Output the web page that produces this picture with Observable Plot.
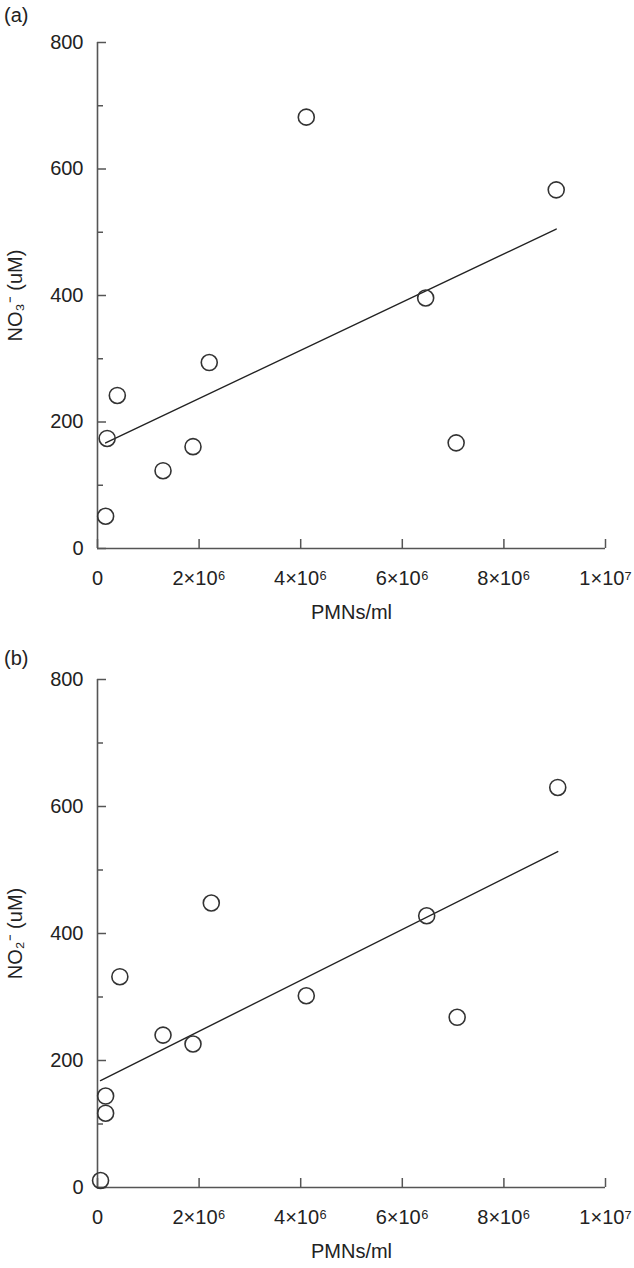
<!DOCTYPE html>
<html>
<head>
<meta charset="utf-8">
<script src="https://cdn.jsdelivr.net/npm/d3@7"></script>
<script src="https://cdn.jsdelivr.net/npm/@observablehq/plot@0.6"></script>
<style>
  body { margin: 0; background: #fff; }
  .panel { position: relative; width: 634px; height: 634px; }
  .plabel { position: absolute; left: 4px; font: 20px "Liberation Sans", Arial, sans-serif; color: #222; line-height: 1; }
</style>
</head>
<body>
<div id="root"></div>
<script>
// Panel (a): NO3- vs PMNs/ml
const pmnsA = [0.16e6, 0.19e6, 0.39e6, 1.29e6, 1.88e6, 2.2e6, 4.11e6, 6.46e6, 7.06e6, 9.03e6];
const no3 = [51, 174, 242, 123, 161, 294, 682, 396, 167, 567];
// Panel (b): NO2- vs PMNs/ml
const pmnsB = [0.06e6, 0.16e6, 0.16e6, 0.44e6, 1.29e6, 1.88e6, 2.24e6, 4.11e6, 6.48e6, 7.08e6, 9.06e6];
const no2 = [11, 117, 144, 332, 240, 226, 448, 302, 428, 268, 630];

const xTicks = [0, 2e6, 4e6, 6e6, 8e6, 1e7];
const xTickLabels = ["0", "2×10⁶", "4×10⁶", "6×10⁶", "8×10⁶", "1×10⁷"];
const yTicks = [0, 200, 400, 600, 800];
const yMinorTicks = [100, 300, 500, 700];
const panelLetters = ["(a)", "(b)"];
const yLabels = ["NO₃⁻ (uM)", "NO₂⁻ (uM)"];
const xLabel = "PMNs/ml";

const xLabelMap = new Map(xTicks.map((t, i) => [t, xTickLabels[i]]));
const axisColor = "#555";
const font = '"Liberation Sans", Arial, sans-serif';

function panel(letter, xs, ys, yLabel, mt, mb, letterTop) {
  const data = xs.map((x, i) => ({x, y: ys[i]}));
  const wrap = document.createElement("div");
  wrap.className = "panel";
  const chart = Plot.plot({
    width: 634,
    height: 634,
    marginLeft: 97,
    marginRight: 29,
    marginTop: mt,
    marginBottom: mb,
    style: {fontFamily: font, fontSize: "20px", color: "#222", background: "#fff", overflow: "visible"},
    x: {domain: [0, 1e7]},
    y: {domain: [0, 800]},
    marks: [
      Plot.axisX({ticks: xTicks, tickFormat: d => xLabelMap.get(d), tickSize: -9, tickPadding: 31,
        stroke: axisColor, strokeWidth: 1.5, label: xLabel, labelAnchor: "center", labelArrow: "none", labelOffset: 70}),
      Plot.axisY({ticks: yTicks, tickSize: -9, tickPadding: 23, stroke: axisColor, strokeWidth: 1.5,
        label: yLabel, labelAnchor: "center", labelArrow: "none", labelOffset: 90}),
      Plot.axisY({ticks: yMinorTicks, tickSize: -6, tickFormat: () => "", stroke: axisColor, strokeWidth: 1.5, label: null}),
      Plot.ruleX([0], {stroke: axisColor, strokeWidth: 1.6}),
      Plot.ruleY([0], {stroke: axisColor, strokeWidth: 1.6}),
      Plot.linearRegressionY(data, {x: "x", y: "y", ci: 0, stroke: "#222", strokeWidth: 1.4}),
      Plot.dot(data, {x: "x", y: "y", r: 8, stroke: "#333", strokeWidth: 1.6, fill: "none"})
    ]
  });
  wrap.appendChild(chart);
  const lab = document.createElement("div");
  lab.className = "plabel";
  lab.style.top = letterTop + "px";
  lab.textContent = letter;
  wrap.appendChild(lab);
  return wrap;
}

const root = document.getElementById("root");
root.appendChild(panel(panelLetters[0], pmnsA, no3, yLabels[0], 42, 86, 5));
root.appendChild(panel(panelLetters[1], pmnsB, no2, yLabels[1], 45, 81, 14));
</script>
</body>
</html>
